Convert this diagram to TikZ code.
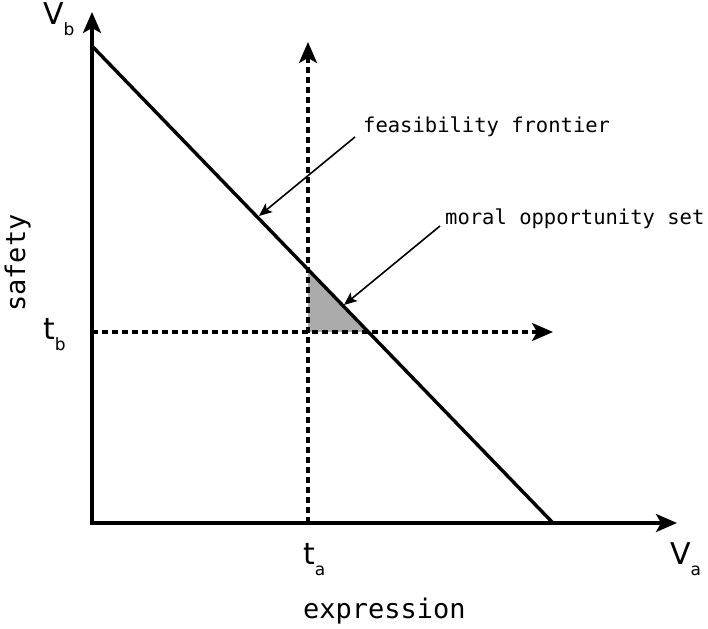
\documentclass[tikz,border=0pt]{standalone}
\usepackage{fontspec}
\setmainfont{DejaVu Sans}
\setmonofont{DejaVu Sans Mono}
\usetikzlibrary{arrows.meta}

\newcommand{\varlabel}[2]{\fontsize{30}{30}\selectfont #1\raisebox{-11pt}{\fontsize{17}{17}\selectfont #2}}

\begin{document}
\begin{tikzpicture}[x=1pt,y=1pt,>={Stealth[length=21pt,width=18pt,inset=5pt]},
  axis/.style={line width=3.4pt,<->},
  guide/.style={line width=3.2pt,dash pattern=on 6pt off 4pt,->},
  pointer/.style={line width=1.6pt,-{Stealth[length=13pt,width=11pt,inset=3pt]}},
  note/.style={font=\ttfamily\fontsize{20.5}{21}\selectfont,inner sep=0pt,anchor=base west},
  axname/.style={font=\ttfamily\fontsize{27}{27}\selectfont,inner sep=0pt,anchor=base west},
  varname/.style={inner sep=0pt,anchor=base west}]
  \useasboundingbox (0,0) rectangle (708,628);

  % Points
  \coordinate (O) at (92,105);
  \coordinate (ytip) at (92,616);
  \coordinate (xtip) at (677,105);
  \coordinate (fftop) at (92,582);
  \coordinate (ffbot) at (553,105);
  \coordinate (tabot) at (308,105);
  \coordinate (tatop) at (308,586);
  \coordinate (tbleft) at (92,296);
  \coordinate (tbright) at (553,296);

  % Opportunity set
  \fill[black!33] (308,296) -- (308,358.5) -- (368.4,296) -- cycle;

  % Thresholds
  \draw[guide] (tabot) -- (tatop);
  \draw[guide] (tbleft) -- (tbright);

  % Axes and frontier
  \draw[axis] (ytip) -- (O) -- (xtip);
  \draw[line width=3.4pt] (fftop) -- (ffbot);

  % Labels
  \node[varname] (Vb) at (43,603) {\varlabel{V}{b}};
  \node[varname] (tb) at (43,288) {\varlabel{t}{b}};
  \node[varname] (ta) at (303,63) {\varlabel{t}{a}};
  \node[varname] (Va) at (670,63) {\varlabel{V}{a}};
  \node[axname] (expr) at (303,10) {expression};
  \node[axname,rotate=90] (safe) at (25,316) {safety};

  % Notes
  \node[note] (ffrontier) at (363,495) {feasibility frontier};
  \node[note] (mos) at (445,403) {moral opportunity set};
  \coordinate (ffstart) at (355,491);
  \coordinate (fftip) at (259,412);
  \coordinate (mosstart) at (440,402);
  \coordinate (mostip) at (344,323);
  \draw[pointer] (ffstart) -- (fftip);
  \draw[pointer] (mosstart) -- (mostip);
\end{tikzpicture}
\end{document}
